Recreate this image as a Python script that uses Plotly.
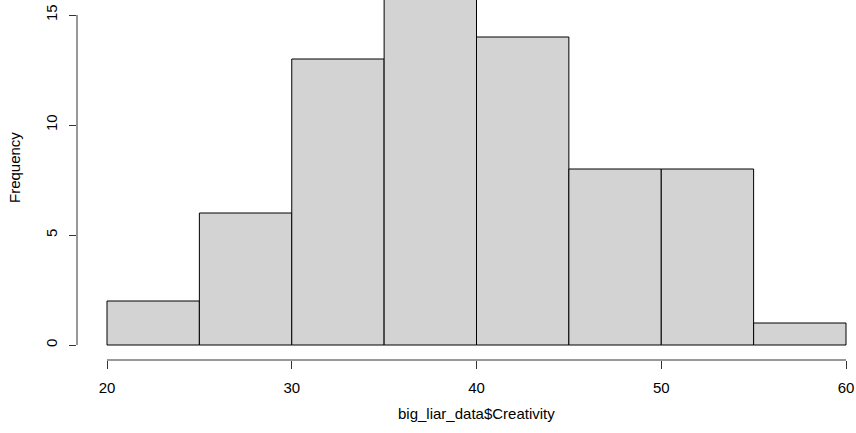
import plotly.graph_objects as go

bin_edges = [20, 25, 30, 35, 40, 45, 50, 55, 60]
counts = [2, 6, 13, 17, 14, 8, 8, 1]
x_ticks = [20, 30, 40, 50, 60]
y_ticks = [0, 5, 10, 15]
x_title = "big_liar_data$Creativity"
y_title = "Frequency"

mids = [(bin_edges[i] + bin_edges[i + 1]) / 2 for i in range(len(counts))]
widths = [bin_edges[i + 1] - bin_edges[i] for i in range(len(counts))]

W, H = 856, 433
ml, mb = 77, 73
plot_h = H - mb
px_per_unit_y = 22.0
px_per_unit_x = (846 - 107) / 40.0
x0 = 20 - (107 - ml) / px_per_unit_x
x1 = x0 + (W - ml) / px_per_unit_x
y0 = -15 / px_per_unit_y
y1 = y0 + plot_h / px_per_unit_y

font = dict(family="Liberation Sans, Arial, sans-serif", size=15, color="black")

fig = go.Figure(go.Bar(
    x=mids, y=counts, width=widths,
    marker=dict(color="#D3D3D3", line=dict(color="black", width=1)),
    hoverinfo="skip",
))

fig.update_layout(
    width=W, height=H,
    margin=dict(l=ml, r=0, t=0, b=mb, pad=0),
    plot_bgcolor="white", paper_bgcolor="white",
    showlegend=False, font=font,
    xaxis=dict(range=[x0, x1], tickvals=x_ticks, ticks="outside", ticklen=8,
               tickcolor="#333", tickwidth=1, showgrid=False, zeroline=False,
               showline=False, tickfont=font, ticklabelstandoff=6, automargin=False),
    yaxis=dict(range=[y0, y1], tickvals=y_ticks, ticks="outside", ticklen=7,
               tickcolor="#333", tickwidth=1, showgrid=False, zeroline=False,
               showline=False, tickangle=-90, tickfont=font, ticklabelstandoff=6,
               automargin=False),
    shapes=[
        dict(type="line", xref="x", yref="paper", x0=x_ticks[0], x1=x_ticks[-1],
             y0=0, y1=0, line=dict(color="#333", width=1)),
        dict(type="line", xref="paper", yref="y", x0=0, x1=0,
             y0=y_ticks[0], y1=y_ticks[-1], line=dict(color="#333", width=1)),
    ],
    annotations=[
        dict(text=x_title, xref="x", yref="paper", x=40, y=-53 / plot_h,
             showarrow=False, xanchor="center", yanchor="middle", font=font),
        dict(text=y_title, xref="paper", yref="paper", x=-(ml - 14) / (W - ml),
             y=1 - 168 / plot_h, showarrow=False, textangle=-90,
             xanchor="center", yanchor="middle", font=font),
    ],
)

fig.write_html(
    "out.html",
    config={"responsive": False, "displayModeBar": False},
    post_script="document.body.style.margin='0';document.body.style.overflow='hidden';",
)
